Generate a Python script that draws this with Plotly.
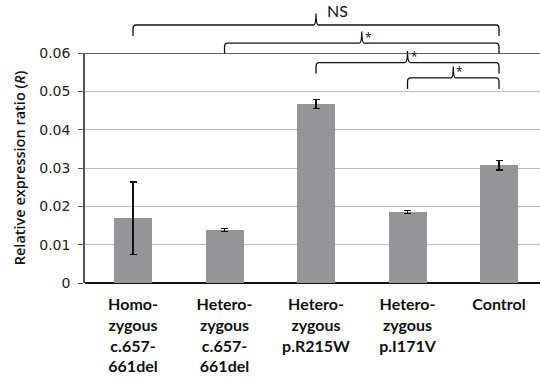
import plotly.graph_objects as go

categories = ["Homo-<br>zygous<br>c.657-<br>661del", "Hetero-<br>zygous<br>c.657-<br>661del",
              "Hetero-<br>zygous<br>p.R215W", "Hetero-<br>zygous<br>p.I171V", "Control"]
values = [0.0169, 0.0138, 0.0467, 0.0185, 0.0307]
errors = [0.0094, 0.0004, 0.0012, 0.0004, 0.0012]
y_ticks = [0, 0.01, 0.02, 0.03, 0.04, 0.05, 0.06]
y_tick_labels = ["0", "0.01", "0.02", "0.03", "0.04", "0.05", "0.06"]

# significance brackets: (from category index, to category index, level, label)
brackets = [(0, 4, 0.0673, "NS"),
            (1, 4, 0.0626, "*"),
            (2, 4, 0.0575, "*"),
            (3, 4, 0.0535, "*")]

W, H = 540, 381
ML, MR, MT, MB = 85, 0, 53, 98
X_RANGE = [-0.525, 4.448]
Y_RANGE = [0, 0.06]

idx = list(range(len(categories)))

fig = go.Figure()
fig.add_trace(go.Bar(
    x=idx, y=values, width=0.415,
    marker=dict(color="#939598", line=dict(width=0)),
    error_y=dict(type="data", array=errors, visible=True, color="#111111",
                 thickness=1.5, width=3.5),
))

pw = W - ML - MR
ph = H - MT - MB


def px_x(xd):
    return (xd - X_RANGE[0]) / (X_RANGE[1] - X_RANGE[0])


def px_y(yd):
    return (yd - Y_RANGE[0]) / (Y_RANGE[1] - Y_RANGE[0])


cx = 3.0 / pw   # corner curl width (paper units)
tx = 2.5 / pw   # tip half-width
dy_end = 11.0 / ph
dy_tip = 11.5 / ph
for i0, i1, lvl, lab in brackets:
    a = px_x(i0)
    b = px_x(i1)
    m = (a + b) / 2
    y = px_y(lvl)
    path = (f"M {a},{y - dy_end} L {a},{y - 4 / ph} Q {a},{y} {a + cx},{y} "
            f"L {m - tx},{y} Q {m},{y} {m},{y + dy_tip} "
            f"Q {m},{y} {m + tx},{y} L {b - cx},{y} Q {b},{y} {b},{y - 4 / ph} "
            f"L {b},{y - dy_end}")
    fig.add_shape(type="path", path=path, xref="paper", yref="paper",
                  line=dict(color="#111111", width=1.3))
    if lab == "NS":
        fig.add_annotation(x=m + 9 / pw, y=y + 3 / ph, xref="paper", yref="paper",
                           text=lab, showarrow=False, xanchor="left", yanchor="bottom",
                           font=dict(family="Lato", size=16, color="#111111"))
    else:
        fig.add_annotation(x=m + 1 / pw, y=y + 6 / ph, xref="paper", yref="paper",
                           text=lab, showarrow=False, xanchor="left", yanchor="middle",
                           font=dict(size=12, color="#111111"))

fig.update_layout(
    width=W, height=H,
    margin=dict(l=ML, r=MR, t=MT, b=MB, autoexpand=False),
    plot_bgcolor="white", paper_bgcolor="white",
    showlegend=False,
    font=dict(family="Open Sans", color="#111111"),
    bargap=0,
)
fig.update_xaxes(
    range=X_RANGE, tickvals=idx,
    ticktext=[f"<b>{c}</b>" for c in categories],
    tickfont=dict(family="Lato", size=16, color="#111111"),
    ticklabelstandoff=10,
    showline=False, showgrid=False, ticks="", zeroline=False,
    automargin=False,
)
fig.update_yaxes(
    range=Y_RANGE, tickvals=y_ticks, ticktext=y_tick_labels,
    tickfont=dict(family="DejaVu Sans", size=14, color="#222222"),
    ticklabelstandoff=5,
    showgrid=True, gridcolor="#bdbdbd", gridwidth=1.3,
    showline=True, linecolor="#555555", linewidth=1.5,
    ticks="outside", ticklen=5, tickcolor="#555555",
    zeroline=True, zerolinecolor="#111111", zerolinewidth=1.5,
    automargin=False,
    title=dict(text="Relative expression ratio (<i>R</i>)",
               font=dict(size=14.5, weight=600), standoff=10),
)
# top boundary line at 0.06
fig.add_shape(type="line", xref="paper", yref="y", x0=0, x1=1, y0=0.06, y1=0.06,
              line=dict(color="#333333", width=1.5))

fig.write_html("out.html", config={"displayModeBar": False},
               post_script="document.body.style.margin='0px';")
